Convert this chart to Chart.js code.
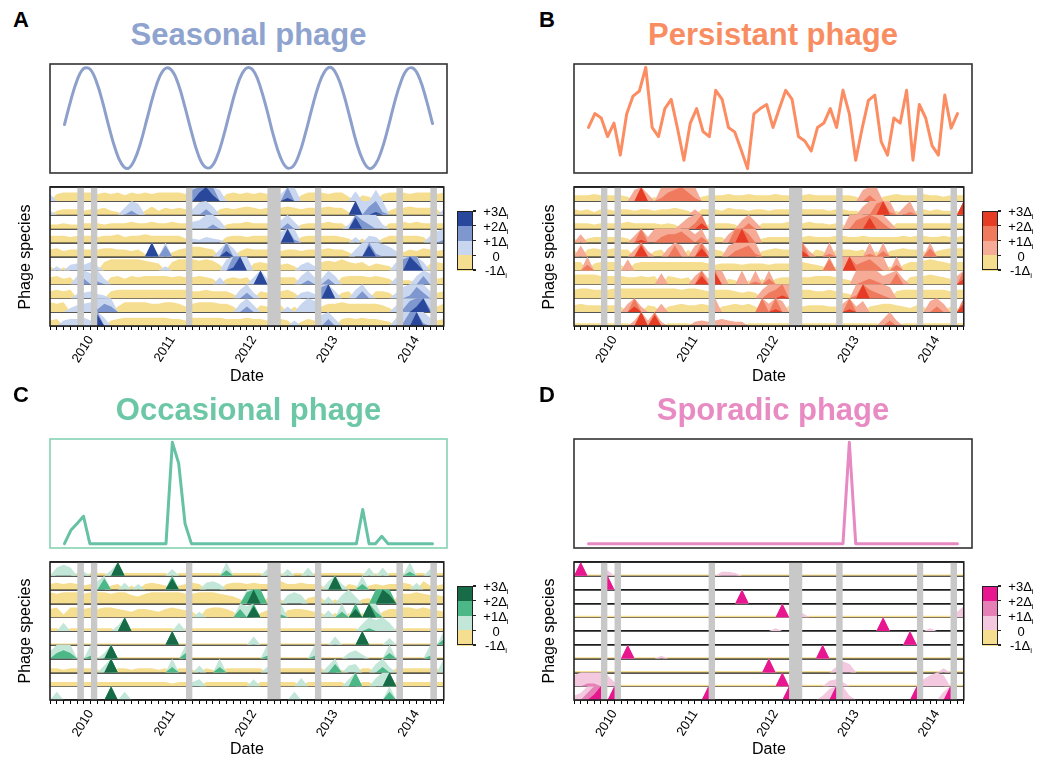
<!DOCTYPE html>
<html><head><meta charset="utf-8">
<script src="https://cdn.jsdelivr.net/npm/chart.js@4.4.1/dist/chart.umd.min.js"></script>
<style>
body{margin:0;width:1049px;height:758px;overflow:hidden;background:#fff;font-family:"Liberation Sans",Arial,sans-serif;position:relative}
canvas{position:absolute}
.letter{position:absolute;font-weight:bold;font-size:22px;line-height:22px;color:#000}
.title{position:absolute;font-weight:bold;font-size:31px;line-height:31px;white-space:nowrap;transform:translateX(-50%)}
.ylab{position:absolute;font-size:16px;line-height:16px;white-space:nowrap;transform:translate(-50%,-50%) rotate(-90deg);color:#000}
.lgcell{position:absolute}
.lgbox{position:absolute;border:1.5px solid #222;box-sizing:border-box}
.lgtick{position:absolute;height:1.2px;width:3px;background:#222}
.lglab{position:absolute;font-size:13px;line-height:13px;white-space:nowrap;transform:translate(-50%,-50%);color:#000}
.lglab sub{font-size:8px;vertical-align:-3px;line-height:0}
</style></head><body>
<script>
// ---------- time axis ----------
const firstMonth = {year: 2009, month: 7};   // July 2009
const monthCount = 59;                        // to May 2014
const gapMonths = ['2009-11','2010-01','2011-03','2012-03','2012-04','2012-10','2013-10','2014-03'];
const yearLabels = [2010, 2011, 2012, 2013, 2014];
const legendLabels = ['+3Δ<sub>i</sub>', '+2Δ<sub>i</sub>', '+1Δ<sub>i</sub>', '0', '-1Δ<sub>i</sub>'];

// ---------- top panels: abundance profiles (one value per sample) ----------
const seasonalTrend = [-0.13,0.35,0.75,0.98,0.97,0.73,0.32,-0.17,-0.61,-0.91,-1.00,-0.84,-0.49,-0.02,0.45,0.82,0.99,0.93,0.65,0.21,-0.27,-0.70,-0.95,-0.98,-0.78,-0.39,0.09,0.55,0.88,1.00,0.89,0.56,0.11,-0.38,-0.77,-0.98,-0.96,-0.71,-0.29,0.19,0.63,0.92,1.00,0.83,0.47,0.00,-0.48,-0.83,-1.00,-0.92,-0.63,-0.19,0.30,0.71,0.96,0.98,0.77,0.37,-0.11];
const persistentTrend = [13.5,17.6,16.3,10.8,14.8,5.3,17.5,22.8,24.3,31.3,13.5,10.8,19.1,21.8,13.1,3.8,14.8,19.1,12.3,10.8,24.5,21.8,13.5,12.1,6.8,1.3,17.5,19.1,20.3,13.5,19.1,24.5,21.8,10.8,9.5,6.5,13.5,14.8,19.1,13.5,24.5,17.5,3.8,13.1,21.5,23.1,9.3,5.3,16.3,14.8,24.5,3.8,20.3,16.3,8.1,5.3,23.1,13.3,17.6];
const occasionalTrend = [0,4,6,8.2,0,0,0,0,0,0,0,0,0,0,0,0,0,30.3,24,6,0,0,0,0,0,0,0,0,0,0,0,0,0,0,0,0,0,0,0,0,0,0,0,0,0,0,0,10.2,0,0,2.2,0,0,0,0,0,0,0,0];
const sporadicTrend = [0,0,0,0,0,0,0,0,0,0,0,0,0,0,0,0,0,0,0,0,0,0,0,0,0,0,0,0,0,0,0,0,0,0,0,0,0,0,0,0,0,30.3,0,0,0,0,0,0,0,0,0,0,0,0,0,0,0,0,0];

// ---------- horizon rows (10 phage species each), values in tenths of Δi ----------
const seasonalRows = [
[5,-5,-6,-6,-6,-6,-6,-5,-6,-5,-6,-4,-6,-5,-6,-5,-6,-6,-6,-6,-5,18,26,30,24,8,-5,-6,-5,-6,-5,-6,-5,-5,5,22,10,-4,-6,-6,-6,-5,-6,-6,-3,7,-4,-3,8,-5,-6,-6,-6,-5,-6,-6,-6,-5,-6],
[3,-3,-4,-4,-4,-3,-4,-4,-5,-3,-2,5,13,8,-3,-6,-3,-5,-4,-5,-4,4,9,14,6,-4,-5,-4,-5,-6,-5,-4,-5,-5,-5,-6,-5,-4,-5,-5,-5,-6,-5,-5,-2,30,10,16,22,12,-3,-5,-5,-6,-5,-5,-5,-4,4],
[-3,-3,-4,-3,-3,-4,-4,-4,-3,-4,-4,-4,-5,-4,-4,-5,-4,-4,-5,-4,-4,5,6,10,13,6,-3,-4,-4,-5,-4,-4,-4,-4,6,14,5,-3,-4,-4,-4,-5,-4,-4,3,28,16,13,10,3,-4,-4,-5,-4,-5,-4,-4,-4,-4],
[-5,-5,-5,-4,-5,-5,-5,-4,-5,-5,-6,-4,-5,-5,-6,-5,-5,-5,-5,-5,-3,3,2,4,3,2,-4,-5,-5,-4,-5,-5,-5,-5,8,30,12,-4,-5,-5,-5,-5,-5,-4,-3,4,-3,5,4,-3,-5,-5,-5,-5,-5,-4,5,8,12],
[-5,-6,-4,-5,-5,-5,-5,-5,-6,-6,-5,-5,-4,-5,-2,30,-2,18,-3,-5,-6,-7,-7,-6,-5,5,24,6,-4,-6,-5,-5,-5,-5,-4,-5,-5,-4,-5,-5,-5,-6,-5,-5,-3,5,10,28,12,9,7,4,-3,-5,-4,-6,-5,-4,-5],
[-3,3,-2,4,5,4,6,3,-6,-8,-8,-8,-8,-8,-7,-6,-5,3,-6,-8,-8,-8,-7,-8,-7,-4,8,22,30,10,-5,-6,-5,-5,-4,-5,-3,4,6,3,-6,-7,-6,-8,-6,-5,-6,-3,-5,-4,-3,6,18,30,25,6,-5,-6,-5],
[-5,-6,-4,-5,6,14,8,12,4,-5,-6,-4,-6,-5,-6,-6,-6,-6,-5,-6,-5,-5,-6,-5,-4,5,-4,-5,-4,-5,5,30,4,-3,-5,-5,-5,6,13,5,4,14,6,-5,-6,-6,-6,-5,-6,-5,-4,5,-3,-3,6,16,8,-4,-5],
[-5,-6,-5,-6,3,4,5,3,2,-5,-6,-6,-6,-6,-6,-6,-6,-6,-6,-6,-6,-5,-5,-6,-5,-5,-5,-3,6,14,4,-5,-4,-4,-5,-6,-4,4,5,3,18,30,5,-4,-5,6,15,4,-5,-5,-4,4,8,12,18,14,5,-4,-5],
[-7,-6,-7,3,5,6,7,12,16,14,-4,-7,-7,-7,-7,-6,-6,-7,-7,-6,-4,-6,-7,-7,-7,-6,-6,-4,6,14,5,-5,-4,-5,-5,4,-4,6,10,8,-4,-6,-6,-7,-6,-6,-6,-6,-6,-5,-3,5,12,18,24,30,12,-4,-6],
[-4,-5,4,5,5,6,4,28,6,-4,-5,-6,-6,-6,-6,-6,-6,-6,-5,-5,-4,-6,-6,-6,-6,-6,-5,-5,-5,-6,-5,-5,-4,-5,-5,-4,4,-3,-5,-4,8,15,5,-5,-6,-5,-6,-5,-5,-4,-3,6,12,20,30,12,6,-4,-5]
];
const persistentRows = [
[-4,-4,-4,-5,-4,-4,-4,-4,-3,8,30,5,-3,12,16,18,20,16,12,-3,-4,-4,-4,-5,-4,-4,-5,-4,-4,-4,-5,-4,-4,-4,-4,-5,-4,-4,-4,-4,-4,-4,-3,8,14,10,-3,-4,-5,-4,-4,-4,-5,-4,-4,-3,-4,-4,-4],
[-4,-3,-4,-2,-4,-4,-3,-4,-4,-3,-4,-4,-3,-4,-4,-5,-4,-3,4,-4,-4,-4,-3,-5,-4,-4,-3,-4,-4,-3,-4,-4,-4,-4,-4,-4,-4,-4,-3,-4,-4,-3,-3,6,10,18,30,12,-3,5,12,-3,-4,-3,-4,-3,-3,-3,30],
[-4,-4,-4,-3,-4,-4,-4,-4,-5,-4,-4,-4,-4,-3,-4,-3,4,8,14,24,-3,-4,-4,-4,-3,6,14,5,-4,-4,-4,-4,-5,-5,-4,-5,-4,-4,-3,-4,-3,10,16,18,28,18,14,5,-4,-4,-4,-4,-4,-4,-4,-4,-4,-4,-4],
[-3,6,-3,-4,-4,-4,-4,-4,-3,5,22,4,10,14,16,16,18,14,6,14,-3,-4,-4,6,20,30,16,10,-3,-4,-4,-4,-4,-4,-4,-5,-4,-4,-4,-5,-5,-4,-4,-5,-4,-4,-4,-4,-4,-5,-4,-5,-5,-4,-4,-5,-4,-4,-5],
[-5,8,-5,-6,-5,-5,-6,-5,-5,5,28,4,-4,-5,6,18,8,-5,8,26,4,-5,-4,8,14,16,18,12,-4,-5,-6,-5,-5,-5,24,4,-5,-4,12,-5,-5,-5,-4,-5,12,-4,14,-4,-5,-6,-5,-5,-4,16,-4,-5,-6,-6,-6],
[-6,-6,14,-5,-6,-6,-6,-4,8,-5,-6,-6,-6,-6,-6,-6,-6,-6,-6,-6,-5,-4,-5,-5,-5,-4,-5,-5,-5,-4,-5,-5,-5,-5,-6,-5,-4,-3,18,-3,10,30,14,16,18,14,10,-3,14,-4,-6,-6,-7,-8,-7,-6,-5,-6,-6],
[-7,-7,-7,-7,-6,-6,-6,-6,-5,-5,-6,-5,-6,8,-6,-5,-4,-5,6,26,4,28,10,-4,-3,10,-3,12,-4,14,-4,-5,-5,-5,-5,-5,-6,-6,-6,-5,-4,-3,10,12,14,12,6,8,18,4,-5,-6,-6,-7,-6,-5,-4,6,24],
[-6,-7,-7,-6,-6,-6,-7,-7,-7,-7,-7,-7,-7,-7,-7,-7,-6,-7,-7,-6,-5,-6,-6,-6,-5,-4,-5,-4,6,14,16,22,10,-5,-6,-6,-5,-5,-6,-5,-4,-3,12,30,16,14,12,8,-5,-6,-6,-6,-6,-6,-6,-6,-5,-6,-6],
[-5,-6,-5,-5,-5,-5,-5,-4,6,24,4,-5,-4,6,-4,-5,-6,-5,-5,-6,-5,10,-4,-5,-6,-5,-6,-4,20,6,22,8,-5,-5,-4,-5,-5,-5,-4,-4,6,22,4,8,-4,-5,-6,-6,-5,-4,-3,-5,-4,8,14,6,-4,-3,26],
[-2,-2,-2,-2,-2,-2,-2,-2,-2,4,30,4,28,3,-2,-2,-2,-2,3,4,3,4,5,4,3,3,-2,-2,-2,-2,-2,-2,-2,-2,-2,-2,-2,-2,-2,-2,-2,-2,-2,-2,-2,-2,5,14,4,-2,-2,-2,-2,-2,-2,-2,-2,-2,-2]
];
const occasionalRows = [
[-2,6,8,6,-2,3,-2,-2,-2,4,30,-2,-2,-2,-2,-2,-2,-2,5,-2,-2,-2,-2,-2,-2,-2,14,-2,-2,-2,-2,-2,5,-2,-2,5,-2,-2,6,-2,-2,-2,-2,-2,-2,-2,-2,6,-2,6,-2,-2,-2,13,-2,-2,5,-2,-2],
[-4,-5,-4,-5,-4,-3,-4,6,18,-3,-4,5,-3,4,-4,-5,-4,-3,28,-3,-4,-5,-4,5,6,4,-4,-5,-5,-4,-5,-4,-4,-5,-6,-4,-4,-5,-4,-4,-3,6,30,4,-4,-3,14,-3,-4,-3,-4,-4,-5,-4,5,-6,-3,-3,-4],
[-8,-7,-8,-8,-8,-7,-8,-8,-8,-7,-8,-8,-6,-5,-7,-8,-8,-8,-8,-8,-7,-7,-8,-8,-8,-7,-6,-5,-3,18,30,20,-4,-6,-3,6,8,6,-4,-5,-4,5,-3,6,10,5,-3,-4,20,30,26,-4,-7,-7,-8,-7,-6,-6,-5],
[-6,-7,-2,-7,-7,-6,-7,-6,-7,-7,-6,-5,-4,-6,-6,-5,-4,-6,-7,-6,-5,-4,4,-6,-7,-7,-6,-4,16,8,28,-3,-5,-4,12,-5,-6,-6,-5,-4,-3,5,-3,14,-3,26,-3,30,14,-4,-6,-6,-7,-7,-6,-7,-6,-5,-4],
[-2,-2,6,-2,-2,-2,-2,-2,-2,-2,4,30,-2,-2,-2,-2,-2,-2,-2,6,-2,-2,-2,-2,-2,-2,-2,-2,-2,-2,-2,-2,-2,-2,-2,-2,-2,-2,-2,-2,-2,-2,-2,-2,-2,-2,5,12,8,10,6,-2,-2,-2,-2,-2,-2,-2,-2],
[-1,-1,-1,-1,-1,-1,-1,-1,-1,-1,-1,-1,-1,-1,-1,-1,-1,-1,30,-1,-1,-1,-1,-1,-1,-1,-1,-1,-1,-1,6,-1,-1,-1,-1,-1,-1,-1,-1,-1,-1,-1,6,-1,-1,-1,30,-1,-1,-1,5,-1,-1,-1,-1,-1,-1,-1,14],
[5,14,16,14,-1,-1,12,-1,4,30,-1,-1,-1,-1,-1,-1,-1,-1,-1,-1,14,-1,-1,-1,-1,-1,-1,-1,-1,-1,-1,-1,12,-1,-1,-1,-1,-1,-1,12,-1,-1,-1,-1,4,6,3,-1,-1,-1,14,-1,-1,-1,-1,-1,12,-1,-1],
[-3,-3,-2,-3,-3,-3,-3,-2,5,30,-3,-3,-2,-3,-3,-3,-2,-3,14,-3,-3,-2,5,-3,-2,14,-3,-3,-3,-3,-3,-3,4,-3,-3,-3,-3,-3,-3,-3,-3,5,16,-2,5,6,-3,-3,6,14,4,-3,-3,-3,-3,-3,-3,-3,10],
[-3,-3,-3,-3,-3,-3,-3,-3,-3,-3,-3,-3,-3,-3,-3,-3,-3,-3,-2,-3,-3,3,5,-3,-3,-3,-3,-3,-3,-3,5,-3,-3,-3,-3,-3,-3,6,-3,-3,-3,-3,-3,-3,5,20,-3,-3,6,10,30,-3,-3,-3,-3,-3,-3,-3,-3],
[0,6,0,0,0,0,0,0,0,30,0,6,0,0,0,0,0,0,0,0,0,0,0,0,0,0,0,0,0,0,0,0,0,0,0,0,6,0,0,0,0,0,0,0,0,0,0,0,0,0,16,0,0,0,0,0,0,0,0]
];
const sporadicRows = [
[-1,30,-1,-1,-1,4,-1,-1,-1,-1,-1,-1,-1,-1,-1,-1,-1,-1,-1,-1,-1,-1,3,3,2,-1,-1,-1,-1,-1,-1,-1,-1,-1,-1,-1,-1,-1,-1,-1,-1,-1,-1,-1,-1,-1,-1,-1,-1,-1,-1,-1,-1,-1,-1,-1,-1,-1,-1],
[0,0,0,0,0,30,0,0,0,0,0,0,0,0,0,0,0,0,0,0,0,0,0,0,0,0,0,0,0,0,0,0,0,0,0,0,0,0,0,0,0,0,0,0,0,0,0,0,0,0,0,0,0,0,0,0,0,0,0],
[0,0,0,0,0,0,0,0,0,0,0,0,0,0,0,0,0,0,0,0,0,0,0,0,0,30,0,0,0,0,0,0,0,0,0,0,0,0,0,0,0,0,0,0,0,0,0,0,0,0,0,0,0,0,0,0,0,0,0],
[-1,-1,-1,-1,-1,-1,-1,-1,-1,-1,-1,-1,-1,-1,-1,-1,-1,-1,-1,-1,-1,-1,-1,-1,-1,-1,-1,-1,-1,-1,-1,30,-1,-1,3,-1,-1,-1,-1,-1,-1,-1,-1,-1,-1,-1,-1,-1,-1,-1,-1,-1,-1,-1,-1,-1,-1,4,8],
[0,0,0,0,0,0,0,0,0,0,0,0,0,0,0,0,0,0,0,0,0,0,0,0,0,0,0,0,0,0,2,0,0,0,0,0,0,0,0,0,0,0,0,0,0,0,30,0,0,0,0,0,0,2,0,0,0,0,0],
[0,0,0,0,0,0,0,0,0,0,0,0,0,0,0,0,0,0,0,0,0,0,0,0,0,0,0,0,0,0,0,0,0,0,0,0,0,0,0,0,0,0,0,0,0,0,0,0,0,0,30,0,0,0,0,0,0,0,0],
[-1,-1,-1,-1,-1,-1,-1,-1,30,-1,-1,-1,-1,2,-1,-1,-1,-1,-1,-1,-1,-1,-1,-1,-1,-1,-1,-1,-1,-1,-1,-1,-1,-1,-1,-1,-1,30,-1,-1,-1,-1,-1,-1,-1,-1,-1,-1,-1,-1,-1,-1,-1,-1,-1,-1,-1,-1,-1],
[-1,-1,-1,-1,-1,-1,-1,-1,-1,-1,-1,-1,-1,-1,-1,-1,-1,-1,-1,-1,-1,-1,-1,-1,-1,-1,-1,-1,-1,30,-1,-1,-1,-1,-1,-1,-1,-1,-1,4,8,6,-1,-1,-1,-1,-1,-1,-1,-1,-1,-1,-1,-1,-1,3,-1,-1,-1],
[8,10,12,12,10,8,3,-1,-1,-1,-1,-1,-1,-1,-1,-1,-1,-1,-1,-1,-1,-1,-1,-1,-1,-1,-1,-1,-1,-1,-1,30,-1,-1,-1,-1,-1,-1,4,5,3,-1,-1,-1,-1,-1,-1,-1,-1,-1,-1,-1,5,8,10,8,-1,-1,-1],
[3,5,15,24,30,0,30,0,0,0,0,0,0,0,0,0,0,0,0,0,30,0,0,0,0,0,0,0,0,0,0,0,30,0,0,0,0,3,8,30,10,3,0,0,0,0,0,0,0,0,0,30,0,0,0,6,30,0,0]
];

// ---------- styling ----------
const yellow = '#f6de90';
const panels = [
  {key:'A', title:'Seasonal phage', trend: seasonalTrend, rows: seasonalRows, left:50, right:447,
   titleColor:'#8fa3cf', line:'#8da0cb', frame:'#333', yr:[-1.09,1.07],
   pal:{light:'#c9d6ef', mid:'#7f97cf', dark:'#2a489b'}},
  {key:'B', title:'Persistant phage', trend: persistentTrend, rows: persistentRows, left:574, right:972,
   titleColor:'#f98d62', line:'#fc8d62', frame:'#333', yr:[0,32.3],
   pal:{light:'#f5ab96', mid:'#f07a5e', dark:'#e63b25'}},
  {key:'C', title:'Occasional phage', trend: occasionalTrend, rows: occasionalRows, left:50, right:447,
   titleColor:'#6cc7a6', line:'#66c2a5', frame:'#86d2b5', yr:[-1.3,31.3],
   pal:{light:'#c2e6d8', mid:'#4cb887', dark:'#176b46'}},
  {key:'D', title:'Sporadic phage', trend: sporadicTrend, rows: sporadicRows, left:574, right:972,
   titleColor:'#e88bc3', line:'#e78ac3', frame:'#333', yr:[-1.3,31.3],
   pal:{light:'#f4c9df', mid:'#e57fb6', dark:'#e8168f'}}
];

Chart.defaults.font.family = "'Liberation Sans', Arial, sans-serif";
Chart.defaults.color = '#000';

const monthPos = Array.from({length: monthCount}, (_, i) => firstMonth.year + (firstMonth.month - 1 + i) / 12);
// merge consecutive missing months into single shaded bands
const gapBands = [];
gapMonths.map(s => { const [y, m] = s.split('-').map(Number); return y + (m - 1) / 12; })
  .sort((a, b) => a - b)
  .forEach(g => {
    const last = gapBands[gapBands.length - 1];
    if (last && Math.abs(last[1] - g) < 1e-6) last[1] = g + 1/12;
    else gapBands.push([g, g + 1/12]);
  });

function framePlugin(color, width) {
  return {id:'frame', afterDraw(c){ const a=c.chartArea, x=c.ctx; x.save(); x.strokeStyle=color; x.lineWidth=width;
    x.strokeRect(a.left, a.top, a.right-a.left, a.bottom-a.top); x.restore(); }};
}

function addCanvas(left, top, w, h) {
  const cv = document.createElement('canvas');
  cv.width = w; cv.height = h; cv.style.left = left + 'px'; cv.style.top = top + 'px';
  cv.style.width = w + 'px'; cv.style.height = h + 'px';
  document.body.appendChild(cv); return cv;
}
function addDiv(cls, html, style) {
  const d = document.createElement('div'); d.className = cls; d.innerHTML = html;
  Object.assign(d.style, style); document.body.appendChild(d); return d;
}

function horizonDatasets(rows, pal) {
  const ds = [];
  const n = rows.length;
  rows.forEach((row, r) => {
    const base = n - 1 - r;
    const vals = row.map(v => v / 10);
    const bands = [
      {c: yellow,   f: v => Math.min(1, Math.max(0, -v)),    order: 4},
      {c: pal.light, f: v => Math.min(1, Math.max(0, v)),     order: 3},
      {c: pal.mid,   f: v => Math.min(1, Math.max(0, v - 1)), order: 2},
      {c: pal.dark,  f: v => Math.min(1, Math.max(0, v - 2)), order: 1}
    ];
    bands.forEach(b => ds.push({
      type: 'line', data: vals.map((v, i) => ({x: monthPos[i], y: base + b.f(v)})),
      fill: {value: base}, backgroundColor: b.c, borderColor: 'rgba(0,0,0,0)', borderWidth: 0,
      pointRadius: 0, tension: 0, order: b.order
    }));
  });
  gapBands.forEach(([s, e]) => ds.push({
    type: 'line', data: [{x: s, y: n}, {x: e, y: n}], fill: {value: 0},
    backgroundColor: '#c8c8c8', borderColor: 'rgba(0,0,0,0)', borderWidth: 0, pointRadius: 0, order: 0
  }));
  return ds;
}

panels.forEach((p, k) => {
  const col = k % 2, row = Math.floor(k / 2);
  const dy = row * 375;
  const cLeft = col ? 560 : 40;
  const padL = p.left - cLeft, padR = cLeft + 420 - p.right;
  const mid = (p.left + p.right) / 2;

  // letter & title
  addDiv('letter', p.key, {left: (col ? 539 : 13) + 'px', top: (9 + dy) + 'px'});
  addDiv('title', p.title, {left: mid + 'px', top: (19 + dy) + 'px', color: p.titleColor});

  // top abundance chart
  const topCv = addCanvas(cLeft, 55 + dy, 420, 130);
  new Chart(topCv, {
    type: 'line',
    data: {datasets: [{data: p.trend.map((v, i) => ({x: i, y: v})), borderColor: p.line, borderWidth: 3,
      pointRadius: 0, tension: p.key === 'A' ? 0.4 : 0, fill: false, borderJoinStyle: 'round', borderCapStyle: 'round'}]},
    options: {responsive: false, animation: false, events: [],
      layout: {padding: {left: padL, right: padR, top: 9, bottom: 12}},
      plugins: {legend: {display: false}, tooltip: {enabled: false}},
      scales: {x: {type: 'linear', display: false, min: -2.28, max: monthCount - 1 + 2.28},
               y: {display: false, min: p.yr[0], max: p.yr[1]}}},
    plugins: [framePlugin(p.frame, 1.6)]
  });

  // bottom horizon chart
  const botH = row ? 203 : 205;
  const botCv = addCanvas(cLeft, row ? 555 : 180, 420, botH);
  const areaH = row ? 138 : 139;
  new Chart(botCv, {
    type: 'line',
    data: {datasets: horizonDatasets(p.rows, p.pal)},
    options: {responsive: false, animation: false, events: [],
      layout: {padding: {left: padL, right: padR, top: 7, bottom: 0}},
      plugins: {legend: {display: false}, tooltip: {enabled: false}},
      scales: {
        x: {type: 'linear', min: monthPos[0], max: monthPos[monthCount - 1],
          afterBuildTicks: s => { s.ticks = monthPos.map(v => ({value: v})); },
          afterFit: s => { s.height = botH - 7 - areaH; },
          grid: {drawOnChartArea: false, drawTicks: true, tickLength: 4, color: '#000', lineWidth: 1},
          border: {display: false},
          ticks: {autoSkip: false, minRotation: 58, maxRotation: 58, padding: 3, font: {size: 13},
            callback: v => yearLabels.includes(Math.round(v)) && Math.abs(v - Math.round(v)) < 1e-6 ? String(Math.round(v)) : ''},
          title: {display: true, text: 'Date', font: {size: 16, lineHeight: 1}, padding: 0}},
        y: {type: 'linear', min: 0, max: p.rows.length, z: 1,
          afterFit: s => { s.width = 0; },
          ticks: {display: false, stepSize: 1},
          grid: {drawTicks: false, color: '#1e1e1e', lineWidth: 1.8},
          border: {display: false}}
      }},
    plugins: [framePlugin('#222', 1.6)]
  });

  // y label
  addDiv('ylab', 'Phage species', {left: (p.left - 25) + 'px', top: ((row ? 562 : 187) + areaH / 2) + 'px'});

  // legend
  const lgL = p.right + 10, lgT = (row ? 562 : 187) + 24, lgW = 16, lgH = 59;
  const cells = [p.pal.dark, p.pal.mid, p.pal.light, yellow];
  cells.forEach((c, i) => addDiv('lgcell', '', {left: lgL + 'px', top: (lgT + i * lgH / 4) + 'px',
    width: lgW + 'px', height: (lgH / 4 + 0.5) + 'px', background: c}));
  addDiv('lgbox', '', {left: lgL + 'px', top: lgT + 'px', width: lgW + 'px', height: lgH + 'px'});
  legendLabels.forEach((t, i) => {
    const y = lgT + i * lgH / 4;
    addDiv('lgtick', '', {left: (lgL + lgW) + 'px', top: (y - 0.6) + 'px'});
    addDiv('lglab', t, {left: (lgL + lgW + 23) + 'px', top: (y + (i === 3 ? 1 : 0)) + 'px'});
  });
});
</script>
</body></html>
